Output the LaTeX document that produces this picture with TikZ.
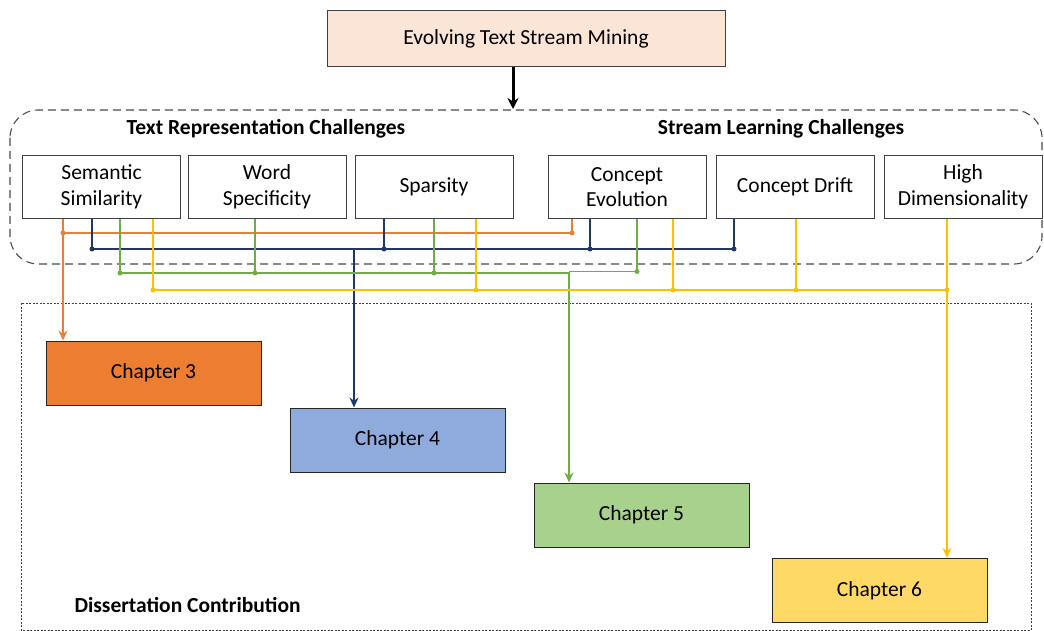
\documentclass[tikz,border=0pt]{standalone}
\usepackage{fontspec}
\setmainfont{Carlito}
\usetikzlibrary{arrows.meta,calc}
\definecolor{peach}{HTML}{FBE5D6}
\definecolor{corange}{HTML}{ED7D31}
\definecolor{cnavy}{HTML}{1F3864}
\definecolor{cgreen}{HTML}{70AD47}
\definecolor{cyellow}{HTML}{FFC000}
\definecolor{cblue}{HTML}{8FAADC}
\definecolor{cgreenf}{HTML}{A9D18E}
\definecolor{cyellowf}{HTML}{FFD966}
\definecolor{edge}{HTML}{404040}
\tikzset{
  chal/.style={draw=edge, line width=1pt, fill=white, minimum width=158pt, minimum height=63pt, inner sep=0pt, align=center, font=\fontsize{21.5}{25.5}\selectfont},
  chap/.style={draw=black!85, line width=1pt, minimum width=215pt, minimum height=64pt, inner sep=0pt, font=\fontsize{21.5}{25}\selectfont},
  hdr/.style={font=\fontsize{21.5}{25}\selectfont\bfseries},
  conn/.style={line width=1.4pt},
  dot/.style={circle, fill, inner sep=0pt, minimum size=5pt},
  tip/.style={-{Stealth[length=10pt,width=9pt]}},
}
\begin{document}
\begin{tikzpicture}[x=1pt,y=-1pt]
\useasboundingbox (0,0) rectangle (1044,631);
% top
\node[draw=edge, line width=1pt, fill=peach, minimum width=398pt, minimum height=56pt, inner sep=0pt, font=\fontsize{21.5}{25}\selectfont] (top) at (526,39) {Evolving Text Stream Mining};
% dashed challenge region
\draw[black!70, line width=1.1pt, dash pattern=on 8pt off 5pt, rounded corners=28pt] (10,110) rectangle (1042,264);
\coordinate (regtop) at (513,109);
\draw[line width=3pt, -{Stealth[length=11pt,width=11pt]}] (top.south -| regtop) -- (regtop);
\node[hdr] (trc) at (266,129) {Text Representation Challenges};
\node[hdr] (slc) at (781,129) {Stream Learning Challenges};
% challenge boxes
\node[chal] (sem) at (101.5,187) {Semantic\\Similarity};
\node[chal] (word) at (267,187) {Word\\Specificity};
\node[chal] (spa) at (434,187) {Sparsity};
\node[chal] (cev) at (627,187) {Concept\\Evolution};
\node[chal] (cdr) at (795,187) {Concept Drift};
\node[chal] (hdim) at (963,187) {High\\Dimensionality};
% dissertation region
\draw[edge, line width=0.8pt, dash pattern=on 2pt off 1.5pt] (21,303) rectangle (1031,630);
\node[hdr, anchor=west] (dc) at (71,605) {Dissertation Contribution};
% chapters
\node[chap, fill=corange] (ch3) at (153.5,373) {Chapter 3};
\node[chap, fill=cblue] (ch4) at (397.5,440) {Chapter 4};
\node[chap, fill=cgreenf] (ch5) at (641.5,515) {Chapter 5};
\node[chap, fill=cyellowf] (ch6) at (879.5,590.5) {Chapter 6};
% bus coordinates
\coordinate (yo) at (0,233);
\coordinate (yn) at (0,249);
\coordinate (yg) at (0,273);
\coordinate (yg2) at (0,271.5);
\coordinate (yy) at (0,290);
\coordinate (x63) at (63,0);
\coordinate (x92) at (92,0);
\coordinate (x120) at (120,0);
\coordinate (x153) at (153,0);
\coordinate (x255) at (255,0);
\coordinate (x354) at (354,0);
\coordinate (x384) at (384,0);
\coordinate (x434) at (434,0);
\coordinate (x476) at (476,0);
\coordinate (x569) at (569,0);
\coordinate (x572) at (572,0);
\coordinate (x590) at (590,0);
\coordinate (x637) at (637,0);
\coordinate (x673) at (673,0);
\coordinate (x734) at (734,0);
\coordinate (x796) at (796,0);
\coordinate (x947) at (947,0);
% orange
\draw[conn, corange, tip] (sem.south -| x63) -- (ch3.north -| x63);
\draw[conn, corange] (yo -| x63) -- (yo -| x572) -- (cev.south -| x572);
\node[dot, corange] (o1) at (yo -| x63) {};
\node[dot, corange] (o2) at (yo -| x572) {};
% navy
\draw[conn, cnavy] (sem.south -| x92) -- (yn -| x92) -- (yn -| x734) -- (cdr.south -| x734);
\draw[conn, cnavy] (spa.south -| x384) -- (yn -| x384);
\draw[conn, cnavy] (cev.south -| x590) -- (yn -| x590);
\draw[conn, cnavy, tip] (yn -| x354) -- (ch4.north -| x354);
\node[dot, cnavy] (n1) at (yn -| x92) {};
\node[dot, cnavy] (n2) at (yn -| x384) {};
\node[dot, cnavy] (n3) at (yn -| x590) {};
\node[dot, cnavy] (n4) at (yn -| x734) {};
% green
\draw[conn, cgreen] (sem.south -| x120) -- (yg -| x120) -- (yg -| x569);
\draw[conn, cgreen] (yg2 -| x569) -- (yg2 -| x637) -- (cev.south -| x637);
\draw[conn, cgreen] (word.south -| x255) -- (yg -| x255);
\draw[conn, cgreen] (spa.south -| x434) -- (yg -| x434);
\draw[conn, cgreen, tip] (yg2 -| x569) -- (ch5.north -| x569);
\node[dot, cgreen] (g1) at (yg -| x120) {};
\node[dot, cgreen] (g2) at (yg -| x255) {};
\node[dot, cgreen] (g3) at (yg -| x434) {};
\node[dot, cgreen] (g4) at (yg2 -| x637) {};
% yellow
\draw[conn, cyellow] (sem.south -| x153) -- (yy -| x153) -- (yy -| x947);
\draw[conn, cyellow] (spa.south -| x476) -- (yy -| x476);
\draw[conn, cyellow] (cev.south -| x673) -- (yy -| x673);
\draw[conn, cyellow] (cdr.south -| x796) -- (yy -| x796);
\draw[conn, cyellow, tip] (hdim.south -| x947) -- (ch6.north -| x947);
\node[dot, cyellow] (y1) at (yy -| x153) {};
\node[dot, cyellow] (y2) at (yy -| x476) {};
\node[dot, cyellow] (y3) at (yy -| x673) {};
\node[dot, cyellow] (y4) at (yy -| x796) {};
\node[dot, cyellow] (y5) at (yy -| x947) {};
\end{tikzpicture}
\end{document}
